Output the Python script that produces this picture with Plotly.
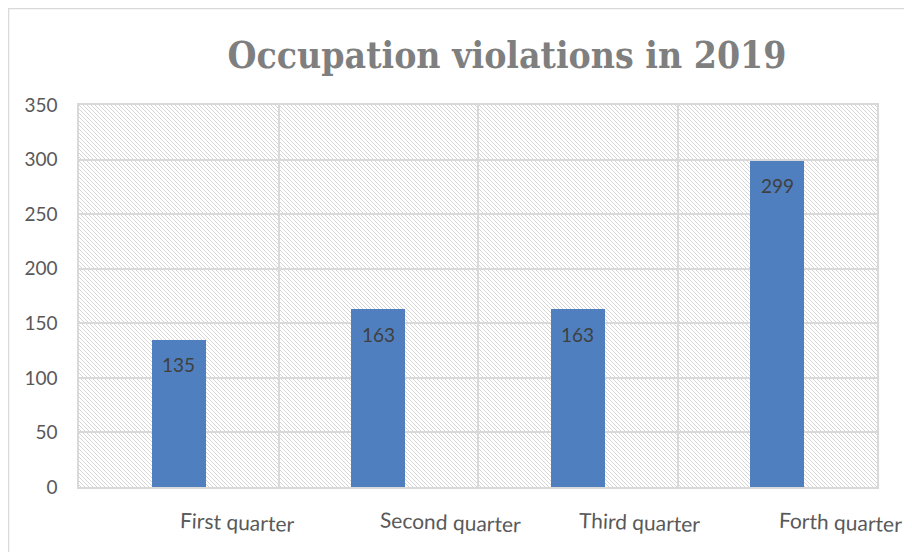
import base64
import plotly.graph_objects as go

categories = ["First quarter", "Second quarter", "Third quarter", "Forth quarter"]
values = [135, 163, 163, 299]
y_ticks = [0, 50, 100, 150, 200, 250, 300, 350]
title_text = "Occupation violations in 2019"

# page has an 8px body margin; figure fits the remaining viewport
OFF = 8
W, H = 912 - OFF, 552 - OFF
ML, MT = 79 - OFF, 105 - OFF
PW, PH = 798, 382
MR, MB = W - ML - PW, H - MT - PH

hatch_svg = (
    f'<svg xmlns="http://www.w3.org/2000/svg" width="{PW}" height="{PH}">'
    '<defs><pattern id="h" width="4" height="4" patternUnits="userSpaceOnUse">'
    '<path d="M-1,-1 L5,5 M-1,3 L1,5 M3,-1 L5,1" stroke="#d6d6d6" stroke-width="1"/>'
    '</pattern></defs><rect width="100%" height="100%" fill="url(#h)"/></svg>'
)
hatch_uri = "data:image/svg+xml;base64," + base64.b64encode(hatch_svg.encode()).decode()

LABEL_FONT = "Lato, Open Sans, sans-serif"

fig = go.Figure()
fig.add_trace(go.Bar(
    x=categories, y=values, width=0.27,
    marker=dict(color="#4F7FBE", line=dict(width=0)),
    hoverinfo="skip",
))

for c, v in zip(categories, values):
    fig.add_annotation(
        x=c, y=v, xref="x", yref="y", text=str(v), showarrow=False,
        yshift=-25,
        font=dict(family=LABEL_FONT, size=19, color="#404040"),
    )

for c in categories:
    fig.add_annotation(
        x=c, y=0, xref="x", yref="y", text=c, showarrow=False,
        xanchor="left", xshift=-1, yshift=-34, textangle=2,
        font=dict(family=LABEL_FONT, size=21, color="#595959"),
    )

fig.add_shape(
    type="rect", xref="paper", yref="paper",
    x0=(0.5 - ML) / PW, x1=(W + 5 - ML) / PW,
    y0=1 - (H + 5 - MT) / PH, y1=1 - (0.5 - MT) / PH,
    line=dict(color="#D9D9D9", width=1.5), fillcolor="rgba(0,0,0,0)", layer="below",
)

fig.update_layout(
    width=W, height=H,
    margin=dict(l=ML, r=MR, t=MT, b=MB),
    paper_bgcolor="white", plot_bgcolor="white",
    showlegend=False,
    bargap=0,
    images=[dict(source=hatch_uri, xref="paper", yref="paper", x=0, y=1,
                 sizex=1, sizey=1, sizing="stretch", xanchor="left", yanchor="top",
                 layer="below")],
    title=dict(text=title_text, x=(507 - OFF) / W, xanchor="center",
               y=1 - (55 - OFF) / H, yanchor="middle",
               font=dict(family="DejaVu Serif Condensed, DejaVu Serif, serif", size=37,
                         color="#7F7F7F", weight="bold")),
)
fig.update_xaxes(
    type="category", range=[-0.5, 3.5], tickson="boundaries",
    showgrid=True, gridcolor="#D9D9D9", gridwidth=1.5,
    showticklabels=False, ticks="",
    showline=True, mirror=True, linecolor="#D9D9D9", linewidth=1.5,
)
fig.update_yaxes(
    range=[0, 350], tickvals=y_ticks, ticktext=[str(t) for t in y_ticks],
    showgrid=True, gridcolor="#D9D9D9", gridwidth=1.5, zeroline=False,
    showline=True, mirror=True, linecolor="#D9D9D9", linewidth=1.5,
    ticks="", ticklabelstandoff=16,
    tickfont=dict(family=LABEL_FONT, size=19, color="#595959"),
)

fig.write_html("out.html")
